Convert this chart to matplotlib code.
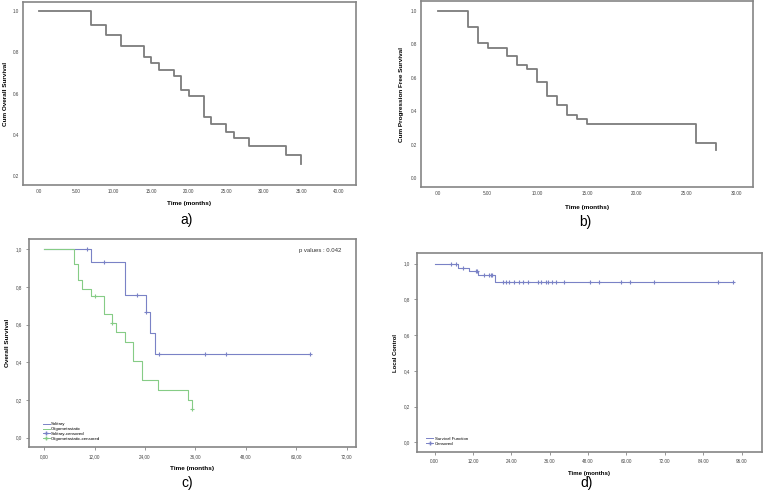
import numpy as np
import matplotlib
matplotlib.use("Agg")
import matplotlib.pyplot as plt
from matplotlib.lines import Line2D

plt.rcParams['font.family'] = ['Liberation Sans', 'DejaVu Sans']

# a) overall survival
os_times = [0, 7, 9, 11, 14, 15, 16, 18, 19, 20, 22, 23, 25, 26, 28, 33, 35]
os_surv = [1.0, 0.93, 0.883, 0.83, 0.775, 0.746, 0.715, 0.683, 0.617, 0.586,
           0.485, 0.45, 0.415, 0.382, 0.345, 0.302, 0.26]
os_xticks = [0, 5, 10, 15, 20, 25, 30, 35, 40]
os_xlabels = ['.00', '5.00', '10.00', '15.00', '20.00', '25.00', '30.00', '35.00', '40.00']
os_yticks = [0.2, 0.4, 0.6, 0.8, 1.0]

# b) progression free survival
pfs_times = [0, 3, 4, 5, 7, 8, 9, 10, 11, 12, 13, 14, 15, 26, 28]
pfs_surv = [1.0, 0.906, 0.806, 0.78, 0.729, 0.677, 0.651, 0.573, 0.493, 0.437,
            0.381, 0.352, 0.323, 0.211, 0.168]
pfs_xticks = [0, 5, 10, 15, 20, 25, 30]
pfs_xlabels = ['.00', '5.00', '10.00', '15.00', '20.00', '25.00', '30.00']
pfs_yticks = [0.0, 0.2, 0.4, 0.6, 0.8, 1.0]

# c) solitary vs oligometastatic
sol_times = [0, 11.2, 19.2, 24.3, 25.2, 26.3, 63.3]
sol_surv = [1.0, 0.931, 0.76, 0.666, 0.554, 0.444, 0.444]
sol_cens = [10.1, 14.3, 22.2, 24.3, 27.3, 38.2, 43.3, 63.3]
oli_times = [0, 7.1, 8.1, 9.1, 11.1, 14.2, 16.1, 17.1, 19.3, 21.2, 23.3, 27.2, 34.3, 35.2]
oli_surv = [1.0, 0.92, 0.835, 0.79, 0.751, 0.659, 0.611, 0.561, 0.508, 0.407,
            0.306, 0.254, 0.202, 0.153]
oli_cens = [12.2, 16.1, 35.2]
c_xticks = [0, 12, 24, 36, 48, 60, 72]
c_xlabels = ['0,00', '12,00', '24,00', '36,00', '48,00', '60,00', '72,00']
c_yticks = [0.0, 0.2, 0.4, 0.6, 0.8, 1.0]
c_ylabels = ['0,0', '0,2', '0,4', '0,6', '0,8', '1,0']

# d) local control
lc_times = [0, 7.4, 10.8, 13.6, 18.9, 93.3]
lc_surv = [1.0, 0.978, 0.959, 0.937, 0.90, 0.90]
lc_cens = [5.2, 6.7, 8.8, 13.0, 13.3, 15.5, 16.9, 17.6, 18.1, 21.4, 22.4, 23.2,
           24.8, 26.4, 27.7, 29.2, 32.2, 33.3, 34.7, 35.6, 36.6, 37.9, 40.5,
           48.6, 51.5, 58.4, 61.1, 68.5, 88.6, 93.3]
d_xticks = [0, 12, 24, 36, 48, 60, 72, 84, 96]
d_xlabels = ['0.00', '12.00', '24.00', '36.00', '48.00', '60.00', '72.00', '84.00', '96.00']
d_yticks = [0.0, 0.2, 0.4, 0.6, 0.8, 1.0]
d_ylabels = ['0,0', '0,2', '0,4', '0,6', '0,8', '1,0']

W, H = 764, 490
BLUE = '#7a82c6'
GREEN = '#86cc86'
FRAME = '#858585'
GREY = '#7c7c7c'

fig = plt.figure(figsize=(W / 100, H / 100), dpi=100)


def add_ax(left, top, right, bottom):
    return fig.add_axes([left / W, 1 - bottom / H, (right - left) / W, (bottom - top) / H])


def at(times, surv, t):
    idx = np.searchsorted(times, t, side='right') - 1
    return np.asarray(surv)[idx]


def style(ax, ticklen=0):
    for s in ax.spines.values():
        s.set_color(FRAME)
        s.set_linewidth(1.2)
    ax.tick_params(labelsize=3.3, length=ticklen, width=0.6, color=FRAME,
                   pad=3, labelcolor='#444444')


# a
ax = add_ax(23, 2, 356, 185)
ax.step(os_times, os_surv, where='post', color=GREY, lw=1.3)
ax.set_xlim(-2.1, 42.3)
ax.set_ylim(0.156, 1.044)
ax.set_xticks(os_xticks, os_xlabels)
ax.set_yticks(os_yticks, [f'{v:.1f}' for v in os_yticks])
style(ax)
ax.set_ylabel('Cum Overall Survival', fontsize=4.6, fontweight='bold', labelpad=3.5)
ax.set_xlabel('Time (months)', fontsize=4.6, fontweight='bold', labelpad=5)
fig.text(187 / W, 1 - 220 / H, 'a)', fontsize=10, ha='center', va='center')

# b
ax = add_ax(421, 1, 753, 187)
ax.step(pfs_times, pfs_surv, where='post', color=GREY, lw=1.3)
ax.set_xlim(-1.7, 31.7)
ax.set_ylim(-0.052, 1.06)
ax.set_xticks(pfs_xticks, pfs_xlabels)
ax.set_yticks(pfs_yticks, [f'{v:.1f}' for v in pfs_yticks])
style(ax)
ax.set_ylabel('Cum Progression Free Survival', fontsize=4.6, fontweight='bold', labelpad=5)
ax.set_xlabel('Time (months)', fontsize=4.6, fontweight='bold', labelpad=6)
fig.text(585 / W, 1 - 222 / H, 'b)', fontsize=10, ha='center', va='center')

# c
ax = add_ax(29, 239, 356, 447)
ax.step(sol_times, sol_surv, where='post', color=BLUE, lw=0.8)
ax.step(oli_times, oli_surv, where='post', color=GREEN, lw=0.8)
ax.plot(sol_cens, at(sol_times, sol_surv, sol_cens), '+', color=BLUE, ms=3.5, mew=0.8)
ax.plot(oli_cens, at(oli_times, oli_surv, oli_cens), '+', color=GREEN, ms=3.5, mew=0.8)
ax.set_xlim(-3.6, 74.2)
ax.set_ylim(-0.05, 1.055)
ax.set_xticks(c_xticks, c_xlabels)
ax.set_yticks(c_yticks, c_ylabels)
style(ax, ticklen=2)
ax.set_ylabel('Overall Survival', fontsize=4.6, fontweight='bold', labelpad=4)
ax.set_xlabel('Time (months)', fontsize=4.6, fontweight='bold', labelpad=5)
ax.text(0.955, 0.955, 'p values : 0.042', transform=ax.transAxes, fontsize=4.3,
        ha='right', va='top', color='#333333')
handles = [Line2D([], [], color=BLUE, lw=0.7),
           Line2D([], [], color=GREEN, lw=0.7),
           Line2D([], [], color=BLUE, lw=0.7, marker='+', ms=3),
           Line2D([], [], color=GREEN, lw=0.7, marker='+', ms=3)]
ax.legend(handles, ['Solitary', 'Oligometastatic', 'Solitary-censored',
                    'Oligometastatic-censored'],
          loc='lower left', bbox_to_anchor=(0.035, 0.02), fontsize=3.2, frameon=False,
          handlelength=1.6, handletextpad=0.3, labelspacing=0.15, borderpad=0)
fig.text(187 / W, 1 - 483 / H, 'c)', fontsize=10, ha='center', va='center')

# d
ax = add_ax(417, 253, 762, 452)
ax.step(lc_times, lc_surv, where='post', color=BLUE, lw=0.8)
ax.plot(lc_cens, at(lc_times, lc_surv, lc_cens), '+', color=BLUE, ms=3.5, mew=0.8)
ax.set_xlim(-5.5, 102.4)
ax.set_ylim(-0.054, 1.06)
ax.set_xticks(d_xticks, d_xlabels)
ax.set_yticks(d_yticks, d_ylabels)
style(ax, ticklen=2)
ax.set_ylabel('Local Control', fontsize=4.2, fontweight='bold', labelpad=4)
ax.set_xlabel('Time (months)', fontsize=4.4, fontweight='bold', labelpad=5)
handles = [Line2D([], [], color=BLUE, lw=0.7),
           Line2D([], [], color=BLUE, lw=0.7, marker='+', ms=3)]
ax.legend(handles, ['Survival Function', 'Censored'], loc='lower left',
          bbox_to_anchor=(0.02, 0.02), fontsize=3.2, frameon=False,
          handlelength=1.6, handletextpad=0.3, labelspacing=0.15, borderpad=0)
fig.text(587 / W, 1 - 483 / H, 'd)', fontsize=10, ha='center', va='center')

fig.savefig('out.png', dpi=100)
